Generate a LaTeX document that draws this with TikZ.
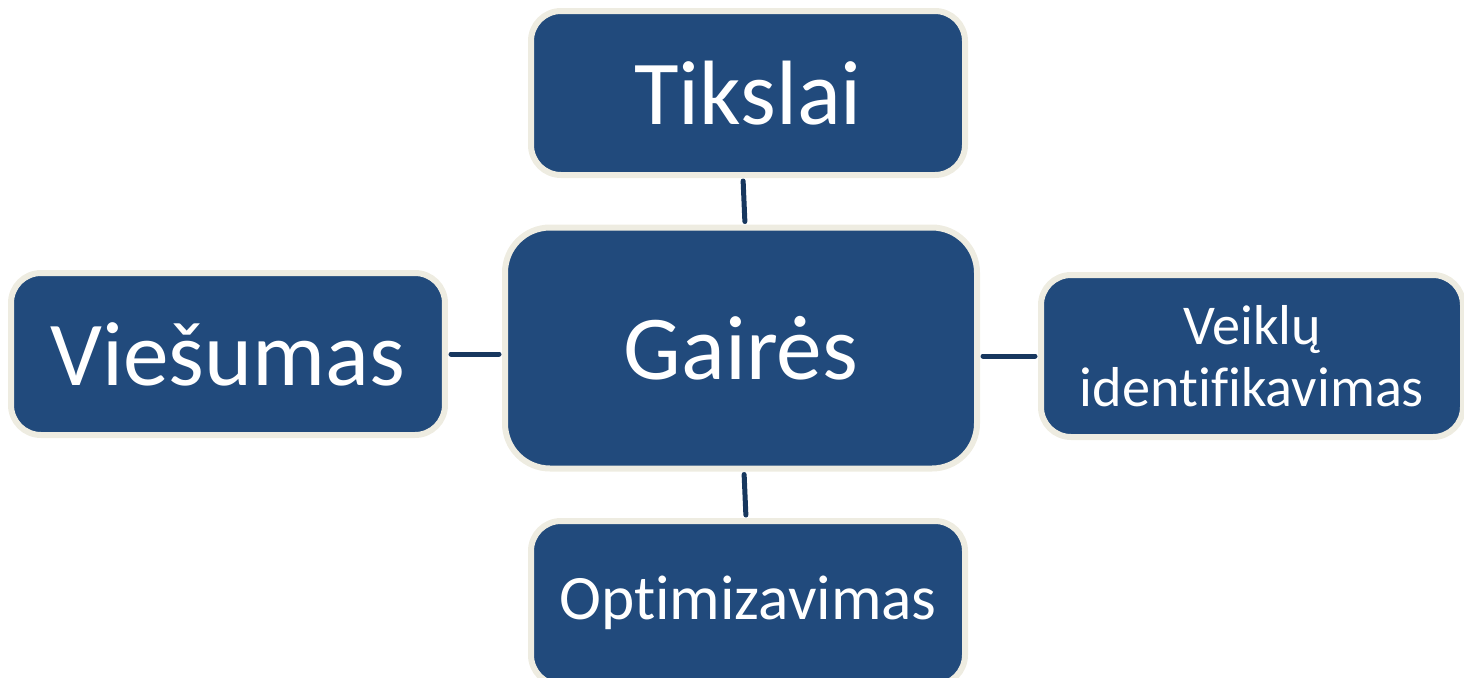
\documentclass[tikz,border=0pt]{standalone}
\usepackage{fontspec}
\setmainfont{Carlito}[Ligatures={NoCommon}]
\usetikzlibrary{calc}
\definecolor{boxblue}{HTML}{214A7C}
\definecolor{boxrim}{HTML}{EEECE1}
\definecolor{linkblue}{HTML}{17375E}

\begin{document}
\begin{tikzpicture}[x=0.1mm, y=-0.1mm, line cap = round, line join = round,
	box/.style = {draw=boxrim, line width=0.6mm, fill=boxblue, text=white,
		rounded corners=3mm, align=center, inner sep=0pt},
	bigbox/.style = {box, font=\fontsize{26}{30}\selectfont},
	link/.style = {draw=linkblue, line width=0.5mm, shorten <=0.3mm, shorten >=0.3mm}]
		% Frame
		\useasboundingbox (0,0) rectangle (1464,677);
		
		% Boxes
		\node[bigbox, minimum width=43.4mm, minimum height=16.4mm] (tikslai) at (748,93) {Tikslai};
		\node[bigbox, minimum width=47.2mm, minimum height=24.1mm, rounded corners=4.5mm] (gaires) at (741,348) {Gairės};
		\node[bigbox, minimum width=43.4mm, minimum height=16.2mm] (viesumas) at (228,354) {Viešumas};
		\node[box, minimum width=42.2mm, minimum height=16.2mm, font=\fontsize{16}{17.5}\selectfont] (veiklu) at (1252,356)
			{Veiklų\\identifikavimas};
		\node[box, minimum width=43.4mm, minimum height=16.4mm, font=\fontsize{18}{20}\selectfont] (optim) at (748,603) {Optimizavimas};
		
		% Links
		\coordinate (t1) at ($(tikslai.south)+(-5,0)$);
		\coordinate (t2) at ($(gaires.north)+(4,0)$);
		\coordinate (o1) at ($(gaires.south)+(3,0)$);
		\coordinate (o2) at ($(optim.north)+(-2,0)$);
		\draw[link] (t1) -- (t2);
		\draw[link] (viesumas.east) -- (viesumas.east -| gaires.west);
		\draw[link] (gaires.east |- veiklu.west) -- (veiklu.west);
		\draw[link] (o1) -- (o2);
\end{tikzpicture}
\end{document}
